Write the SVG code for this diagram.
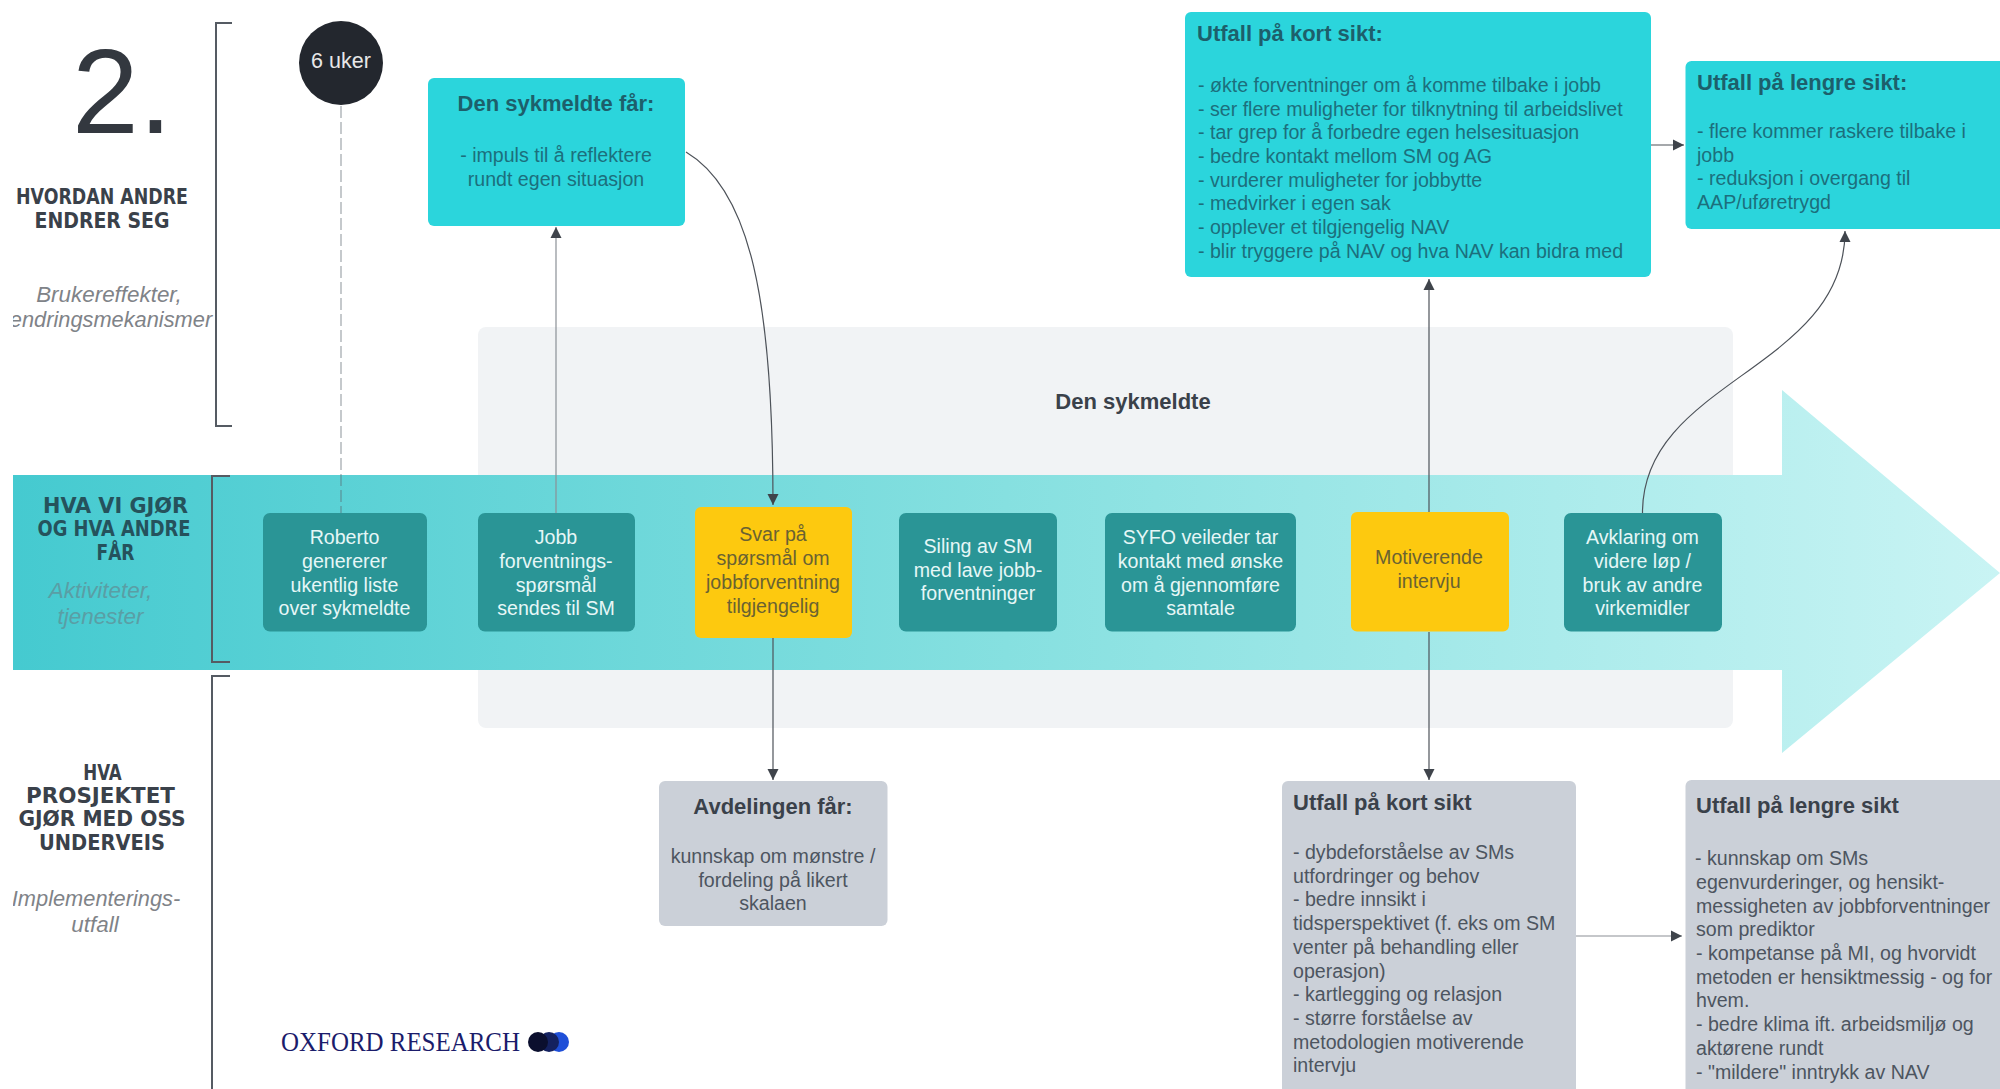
<svg xmlns="http://www.w3.org/2000/svg" width="2000" height="1089" viewBox="0 0 2000 1089">
<style>
text{font-family:"Liberation Sans",Arial,sans-serif;font-size:19.6px}
.c{text-anchor:middle}
text.ttl{font-weight:700;font-size:22px}
.teal{fill:#2bd5dc}.tt{fill:#1c6f7c}.ttd{fill:#1d5f6b}
.dk{fill:#2a9596}.w{fill:#e6f7f7}
.yl{fill:#fdc90f}.yt{fill:#6a6232}
.gr{fill:#cbd0d8}.gt{fill:#4d5560}.gtd{fill:#3a414a}
text.hand{font-family:"DejaVu Sans Condensed","DejaVu Sans",sans-serif;font-weight:700;font-size:21px;fill:#3a414a;text-anchor:middle}
text.sub{font-style:italic;font-size:22.4px;fill:#7f8388;text-anchor:middle}
text.sub2{font-size:21.8px}
.br{fill:none;stroke:#555b63;stroke-width:2}
.ln{fill:none;stroke:#4d5259;stroke-width:1.2;marker-end:url(#ah)}
</style>
<defs>
<marker id="ah" markerUnits="userSpaceOnUse" markerWidth="12" markerHeight="14" refX="11" refY="7" orient="auto"><path d="M0 1.500L11 7L0 12.500Z" fill="#3f444b"/></marker>
<linearGradient id="band" gradientUnits="userSpaceOnUse" x1="13" y1="0" x2="2000" y2="0"><stop offset="0" stop-color="#45cad0"/><stop offset=".5" stop-color="#86e0e0"/><stop offset="1" stop-color="#c9f4f4"/></linearGradient>
<clipPath id="leftclip"><rect x="13" y="0" width="300" height="1089"/></clipPath>
</defs>

<g id="panel"><rect x="478" y="327" width="1255" height="401" rx="8" fill="#f1f3f5"/><text x="1133" y="409" class="c ttl gtd">Den sykmeldte</text></g>
<g id="band-arrow"><path d="M13 475H1782V390L2000 573L1782 753V670H13Z" fill="url(#band)"/></g>

<g id="heading">
<text x="122" y="133" class="c" style="font-size:120px;fill:#33383f">2.</text>
<path class="br" d="M232 23H216V426H232M230 476H212V662H230M230 676H212V1089"/>
<text x="102" y="204" class="hand" textLength="172" lengthAdjust="spacingAndGlyphs">HVORDAN ANDRE</text><text x="102" y="228" class="hand" textLength="135" lengthAdjust="spacingAndGlyphs">ENDRER SEG</text>
<text x="109" y="302" class="sub">Brukereffekter,</text>
<g clip-path="url(#leftclip)"><text x="111" y="327" class="sub sub2">endringsmekanismer</text></g>
<text x="115.500" y="513" class="hand" style="fill:#25525c" textLength="145" lengthAdjust="spacingAndGlyphs">HVA VI GJØR</text><text x="114" y="536" class="hand" style="fill:#25525c" textLength="153" lengthAdjust="spacingAndGlyphs">OG HVA ANDRE</text><text x="115.500" y="560" class="hand" style="fill:#25525c" textLength="38" lengthAdjust="spacingAndGlyphs">FÅR</text>
<text x="100.500" y="598" class="sub" style="fill:#5a9ea5">Aktiviteter,</text><text x="100.500" y="624" class="sub" style="fill:#5a9ea5">tjenester</text>
<text x="102.500" y="780" class="hand" textLength="38.500" lengthAdjust="spacingAndGlyphs">HVA</text><text x="100.500" y="803" class="hand" textLength="149" lengthAdjust="spacingAndGlyphs">PROSJEKTET</text><text x="102" y="826" class="hand" textLength="167" lengthAdjust="spacingAndGlyphs">GJØR MED OSS</text><text x="102" y="850" class="hand" textLength="126" lengthAdjust="spacingAndGlyphs">UNDERVEIS</text>
<g clip-path="url(#leftclip)"><text x="96" y="906" class="sub sub2">Implementerings-</text></g>
<text x="95" y="932" class="sub">utfall</text>
</g>

<g id="connectors">
<path d="M341 106V514" fill="none" stroke="#5a646e" stroke-opacity=".35" stroke-width="2" stroke-dasharray="12 4"/>
<path class="ln" style="stroke:#8b9096" d="M556 514V227"/>
<path class="ln" d="M686 152C750 190 773 300 773 505"/>
<path class="ln" d="M773 638V780"/>
<path class="ln" d="M1429 512V279"/>
<path class="ln" d="M1429 632V780"/>
<path class="ln" d="M1642.500 513C1642 380 1845 370 1845 231"/>
<path class="ln" d="M1651 145H1684"/>
<path class="ln" style="stroke:#8b9096" d="M1576 936H1682"/>
</g>

<g id="n-6uker"><circle cx="341" cy="63" r="42" fill="#23272e"/><text x="341" y="68" class="c" style="font-size:21.500px" fill="#e8e8e8">6 uker</text></g>

<g id="n-sykmeldte-far"><rect x="428" y="78" width="257" height="148" rx="6" class="teal"/>
<text x="556" y="111" class="c ttl ttd">Den sykmeldte får:</text>
<text x="556" y="162" class="c tt">- impuls til å reflektere</text><text x="556" y="186" class="c tt">rundt egen situasjon</text></g>

<g id="n-kort-teal"><rect x="1185" y="12" width="466" height="265" rx="6" class="teal"/>
<text x="1197" y="41" class="ttl ttd">Utfall på kort sikt:</text>
<text x="1198" y="92" class="tt">- økte forventninger om å komme tilbake i jobb</text>
<text x="1198" y="115.500" class="tt">- ser flere muligheter for tilknytning til arbeidslivet</text>
<text x="1198" y="139" class="tt">- tar grep for å forbedre egen helsesituasjon</text>
<text x="1198" y="163" class="tt">- bedre kontakt mellom SM og AG</text>
<text x="1198" y="186.500" class="tt">- vurderer muligheter for jobbytte</text>
<text x="1198" y="210" class="tt">- medvirker i egen sak</text>
<text x="1198" y="234" class="tt">- opplever et tilgjengelig NAV</text>
<text x="1198" y="258" class="tt">- blir tryggere på NAV og hva NAV kan bidra med</text></g>

<g id="n-lengre-teal"><rect x="1685.500" y="61" width="320" height="168" rx="6" class="teal"/>
<text x="1697" y="90" class="ttl ttd">Utfall på lengre sikt:</text>
<text x="1697" y="138" class="tt">- flere kommer raskere tilbake i</text>
<text x="1697" y="161.500" class="tt">jobb</text>
<text x="1697" y="185" class="tt">- reduksjon i overgang til</text>
<text x="1697" y="208.500" class="tt">AAP/uføretrygd</text></g>

<g id="n-roberto"><rect x="263" y="513" width="164" height="118.500" rx="7" class="dk"/>
<text x="344.500" y="544" class="c w">Roberto</text><text x="344.500" y="568" class="c w">genererer</text><text x="344.500" y="591.500" class="c w">ukentlig liste</text><text x="344.500" y="615" class="c w">over sykmeldte</text></g>

<g id="n-jobb"><rect x="478" y="513" width="157" height="118.500" rx="7" class="dk"/>
<text x="556" y="544" class="c w">Jobb</text><text x="556" y="568" class="c w">forventnings-</text><text x="556" y="591.500" class="c w">spørsmål</text><text x="556" y="615" class="c w">sendes til SM</text></g>

<g id="n-svar"><rect x="695" y="507" width="157" height="131" rx="6" class="yl"/>
<text x="773" y="540.500" class="c yt">Svar på</text><text x="773" y="564.500" class="c yt">spørsmål om</text><text x="773" y="588.500" class="c yt">jobbforventning</text><text x="773" y="612.500" class="c yt">tilgjengelig</text></g>

<g id="n-siling"><rect x="899" y="513" width="158" height="118.500" rx="7" class="dk"/>
<text x="978" y="553" class="c w">Siling av SM</text><text x="978" y="576.500" class="c w">med lave jobb-</text><text x="978" y="600" class="c w">forventninger</text></g>

<g id="n-syfo"><rect x="1105" y="513" width="191" height="118.500" rx="7" class="dk"/>
<text x="1200.500" y="544" class="c w">SYFO veileder tar</text><text x="1200.500" y="568" class="c w">kontakt med ønske</text><text x="1200.500" y="591.500" class="c w">om å gjennomføre</text><text x="1200.500" y="615" class="c w">samtale</text></g>

<g id="n-motiverende"><rect x="1351" y="512" width="158" height="119.500" rx="6" class="yl"/>
<text x="1429" y="564" class="c yt">Motiverende</text><text x="1429" y="587.500" class="c yt">intervju</text></g>

<g id="n-avklaring"><rect x="1564" y="513" width="158" height="118.500" rx="7" class="dk"/>
<text x="1642.500" y="544" class="c w">Avklaring om</text><text x="1642.500" y="568" class="c w">videre løp /</text><text x="1642.500" y="591.500" class="c w">bruk av andre</text><text x="1642.500" y="615" class="c w">virkemidler</text></g>

<g id="n-avdelingen"><rect x="659" y="781" width="228.500" height="145" rx="6" class="gr"/>
<text x="773" y="814" class="c ttl gtd">Avdelingen får:</text>
<text x="773" y="862.500" class="c gt">kunnskap om mønstre /</text><text x="773" y="886.500" class="c gt">fordeling på likert</text><text x="773" y="910" class="c gt">skalaen</text></g>

<g id="n-kort-gra"><rect x="1282" y="781" width="294" height="320" rx="6" class="gr"/>
<text x="1293" y="810" class="ttl gtd">Utfall på kort sikt</text>
<text x="1293" y="858.500" class="gt">- dybdeforståelse av SMs</text>
<text x="1293" y="882.500" class="gt">utfordringer og behov</text>
<text x="1293" y="906" class="gt">- bedre innsikt i</text>
<text x="1293" y="930" class="gt">tidsperspektivet (f. eks om SM</text>
<text x="1293" y="954" class="gt">venter på behandling eller</text>
<text x="1293" y="977.500" class="gt">operasjon)</text>
<text x="1293" y="1001" class="gt">- kartlegging og relasjon</text>
<text x="1293" y="1025" class="gt">- større forståelse av</text>
<text x="1293" y="1048.500" class="gt">metodologien motiverende</text>
<text x="1293" y="1072" class="gt">intervju</text></g>

<g id="n-lengre-gra"><rect x="1685.500" y="780" width="320" height="320" rx="6" class="gr"/>
<text x="1696" y="813" class="ttl gtd">Utfall på lengre sikt</text>
<text x="1695" y="864.500" class="gt">- kunnskap om SMs</text>
<text x="1696" y="888.500" class="gt">egenvurderinger, og hensikt-</text>
<text x="1696" y="912.500" class="gt">messigheten av jobbforventninger</text>
<text x="1696" y="936" class="gt">som prediktor</text>
<text x="1696" y="959.500" class="gt">- kompetanse på MI, og hvorvidt</text>
<text x="1696" y="983.500" class="gt">metoden er hensiktmessig - og for</text>
<text x="1696" y="1007" class="gt">hvem.</text>
<text x="1696" y="1031" class="gt">- bedre klima ift. arbeidsmiljø og</text>
<text x="1696" y="1054.500" class="gt">aktørene rundt</text>
<text x="1696" y="1078.500" class="gt">- "mildere" inntrykk av NAV</text></g>

<g id="logo"><text x="281" y="1051" textLength="239" lengthAdjust="spacingAndGlyphs" style="font-family:'Liberation Serif',serif;font-size:27px;fill:#1b1c6b">OXFORD RESEARCH</text>
<circle cx="559" cy="1042" r="10" fill="#1f4fd8"/><circle cx="549" cy="1042" r="10" fill="#14215f"/><circle cx="538" cy="1042" r="10" fill="#0b0f2e"/></g>
</svg>
